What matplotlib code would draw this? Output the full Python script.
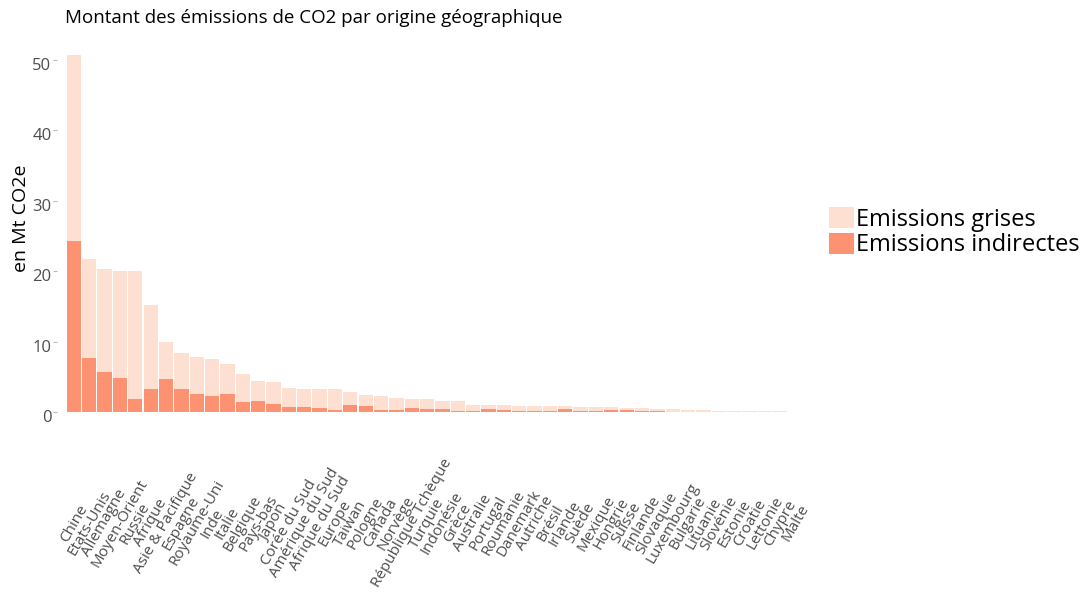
import matplotlib.pyplot as plt
import matplotlib.transforms as mtransforms

plt.rcParams['font.family'] = ['Open Sans', 'DejaVu Sans']

pays = ["Chine", "Etats-Unis", "Allemagne", "Moyen-Orient", "Russie", "Afrique",
        "Asie & Pacifique", "Espagne", "Royaume-Uni", "Inde", "Italie", "Belgique",
        "Pays-bas", "Japon", "Corée du Sud", "Amérique du Sud", "Afrique du Sud",
        "Europe", "Taiwan", "Pologne", "Canada", "Norvège", "République Tchèque",
        "Turquie", "Indonésie", "Grèce", "Australie", "Portugal", "Roumanie",
        "Danemark", "Autriche", "Brésil", "Irlande", "Suède", "Mexique", "Hongrie",
        "Suisse", "Finlande", "Slovaquie", "Luxembourg", "Bulgarie", "Lituanie",
        "Slovénie", "Estonie", "Croatie", "Lettonie", "Chypre", "Malte"]

# hauteur totale (emissions grises) et part indirecte, en Mt CO2e
grises = [50.7, 21.7, 20.3, 20.0, 20.0, 15.2, 9.9, 8.4, 7.8, 7.5, 6.8, 5.4,
          4.4, 4.3, 3.45, 3.2, 3.2, 3.2, 2.9, 2.45, 2.3, 2.0, 1.85,
          1.85, 1.56, 1.56, 1.04, 1.0, 1.0, 0.9, 0.85, 0.85, 0.85, 0.7, 0.7, 0.7,
          0.55, 0.55, 0.45, 0.45, 0.3, 0.25, 0.2, 0.15, 0.15, 0.12, 0.12, 0.05]
indirectes = [24.3, 7.7, 5.7, 4.8, 1.9, 3.3, 4.7, 3.2, 2.6, 2.3, 2.6, 1.4,
              1.6, 1.2, 0.7, 0.7, 0.57, 0.28, 1.0, 0.85, 0.35, 0.25, 0.57,
              0.43, 0.43, 0.2, 0.15, 0.43, 0.3, 0.15, 0.15, 0.15, 0.4, 0.1, 0.1, 0.25,
              0.25, 0.1, 0.1, 0.05, 0.05, 0.03, 0.03, 0.02, 0.02, 0.02, 0.02, 0.01]

clair = "#FEE0D2"
fonce = "#FC9272"
gris = "#4D4D4D"

W, H = 1088, 599
fig = plt.figure(figsize=(W / 100, H / 100), dpi=100)
ax = fig.add_axes([57 / W, 1 - 412 / H, (812.5 - 57) / W, (412 - 45.9) / H])

x = range(len(pays))
ax.bar(x, grises, width=0.93, color=clair, linewidth=0, label="Emissions grises")
ax.bar(x, indirectes, width=0.93, color=fonce, linewidth=0, label="Emissions indirectes")

ax.set_xlim(-1.1, len(pays) - 1 + 1.1)
ax.set_ylim(0, 52)
ax.set_yticks([0, 10, 20, 30, 40, 50])
ax.tick_params(axis="y", length=3, color="#BBBBBB", labelsize=12, labelcolor=gris, pad=1)
# libellés de l'axe y un peu sous les graduations, comme sur l'original
decal = mtransforms.ScaledTranslation(0, -4 / 100, fig.dpi_scale_trans)
for lab in ax.get_yticklabels():
    lab.set_transform(lab.get_transform() + decal)

ax.set_xticks(list(x))
ax.set_xticklabels(pays, rotation=60, ha="center", va="center",
                   rotation_mode="anchor", fontsize=11, color=gris)
ax.tick_params(axis="x", length=0, pad=80)
for s in ax.spines.values():
    s.set_visible(False)

ax.set_ylabel("en Mt CO2e", fontsize=14, color="black")
ax.yaxis.set_label_coords(-27 / (812.5 - 57), (412 - 218) / (412 - 45.9))

fig.text(65 / W, 1 - 18 / H, "Montant des émissions de CO2 par origine géographique",
         fontsize=13.5, va="center", ha="left", color="black")

fig.legend(loc="upper left", bbox_to_anchor=(829 / W, 1 - 207 / H), frameon=False,
           fontsize=17, handlelength=1.06, handleheight=1.0, handletextpad=0.1,
           labelspacing=0.05, borderpad=0, borderaxespad=0)

fig.savefig("out.png", dpi=100)
